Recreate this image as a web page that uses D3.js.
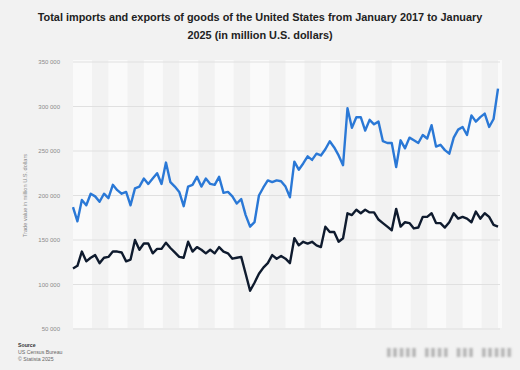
<!DOCTYPE html>
<html>
<head>
<meta charset="utf-8">
<script src="https://cdn.jsdelivr.net/npm/d3@7"></script>
<style>
  body { margin: 0; background: #f2f2f2; }
  svg { display: block; font-family: "Liberation Sans", Arial, sans-serif; }
</style>
</head>
<body>
<div id="chart"></div>
<script>
// monthly values, Jan 2017 .. Jan 2025 (million U.S. dollars, in thousands)
var months = d3.range(97).map(function (i) { return new Date(2017, i, 1) })

var imports = [187, 171, 195, 189, 202, 199, 193, 202, 197, 212, 206, 202,
    204, 189, 208, 210, 219, 213, 219, 225, 213, 237, 215, 210,
    204, 188, 210, 212, 221, 210, 219, 213, 212, 221, 203, 204,
    199, 191, 196, 178, 165, 170, 200, 209, 217, 215, 217, 216,
    210, 198, 238, 229, 236, 244, 240, 247, 245, 252, 261, 254,
    245, 234, 298, 276, 288, 288, 273, 285, 280, 283, 261, 259,
    259, 232, 262, 253, 265, 262, 259, 268, 264, 279, 255, 257,
    251, 247, 265, 274, 277, 268, 290, 283, 288, 292, 277, 286,
    320]

var exports = [118, 121, 137, 126, 130, 133, 124, 130, 131, 137, 137, 136,
    126, 128, 150, 139, 146, 146, 135, 140, 140, 147, 141, 136,
    131, 130, 148, 137, 142, 139, 135, 139, 135, 142, 137, 135,
    129, 130, 131, 112, 93, 102, 112, 119, 124, 133, 129, 132,
    129, 124, 152, 144, 148, 146, 148, 144, 142, 165, 159, 159,
    148, 152, 180, 178, 184, 180, 184, 181, 181, 173, 169, 165,
    161, 185, 165, 170, 169, 163, 164, 176, 176, 180, 169, 169,
    164, 170, 180, 174, 176, 174, 170, 182, 174, 180, 176, 167,
    165]

var yTicks = [50, 100, 150, 200, 250, 300, 350]
var tickLabels = ["50 000", "100 000", "150 000", "200 000", "250 000", "300 000", "350 000"]

var width = 520, height = 370
var margin = {top: 62, right: 22, bottom: 41, left: 73}
var chartWidth = width - margin.left - margin.right
var chartHeight = height - margin.top - margin.bottom

var svg = d3.select("#chart").append("svg")
    .attr("width", width).attr("height", height)

svg.append("rect").attr("width", width).attr("height", height).attr("fill", "#f2f2f2")

var defs = svg.append("defs")
defs.append("filter").attr("id", "blur")
    .attr("x", "-10%").attr("y", "-50%").attr("width", "120%").attr("height", "200%")
    .append("feGaussianBlur").attr("stdDeviation", "1.6 1.2")

// title
var title = svg.append("text")
    .attr("text-anchor", "middle")
    .attr("font-weight", "bold")
    .attr("font-size", 10.9)
    .attr("fill", "#222")
title.append("tspan").attr("x", width / 2).attr("y", 21)
    .text("Total imports and exports of goods of the United States from January 2017 to January")
title.append("tspan").attr("x", width / 2).attr("y", 39)
    .text("2025 (in million U.S. dollars)")

var xScale = d3.scaleLinear().domain([0, 96]).range([0, 425])
var yScale = d3.scaleLinear().domain([50, 350]).range([chartHeight, 0])

var chartLayer = svg.append("g")
    .attr("transform", "translate(" + [margin.left, margin.top] + ")")

// vertical stripes, one every 8 months
var stripes = d3.range(0, 97, 8)
chartLayer.selectAll(".stripe").data(stripes).enter().append("rect")
    .attr("x", function (d) { return xScale(d) })
    .attr("y", -2)
    .attr("width", function (d) { return Math.min(xScale(d + 4.3), xScale(96) + 4) - xScale(d) })
    .attr("height", chartHeight + 1)
    .attr("fill", "#fafafa")

// gridlines
chartLayer.selectAll(".grid").data(yTicks).enter().append("line")
    .attr("x1", 0).attr("x2", xScale(96) + 2)
    .attr("y1", function (d) { return yScale(d) })
    .attr("y2", function (d) { return yScale(d) })
    .attr("stroke", "#e0e0e0")
    .attr("stroke-width", 1)

// y axis labels
var yAxis = d3.axisLeft(yScale)
    .tickValues(yTicks)
    .tickSize(0)
    .tickPadding(13)
    .tickFormat(function (d, i) { return tickLabels[i] })
var gy = chartLayer.append("g").attr("class", "axis y").call(yAxis)
gy.select(".domain").remove()
gy.selectAll("text")
    .attr("font-family", "Liberation Sans, Arial, sans-serif")
    .attr("font-size", 6)
    .attr("fill", "#8a8a8a")

svg.append("text")
    .attr("transform", "translate(27," + (margin.top + yScale(200)) + ") rotate(-90)")
    .attr("text-anchor", "middle")
    .attr("font-size", 5.6)
    .attr("fill", "#8a8a8a")
    .text("Trade value in million U.S. dollars")

// lines
var line = d3.line()
    .x(function (d, i) { return xScale(i) })
    .y(function (d) { return yScale(d) })

chartLayer.append("path").datum(imports)
    .attr("d", line)
    .attr("fill", "none")
    .attr("stroke", "#2a78d6")
    .attr("stroke-width", 2.4)
    .attr("stroke-linejoin", "round")

chartLayer.append("path").datum(exports)
    .attr("d", line)
    .attr("fill", "none")
    .attr("stroke", "#0f1b2e")
    .attr("stroke-width", 2.4)
    .attr("stroke-linejoin", "round")

// footer
var foot = svg.append("g").attr("font-size", 5.2).attr("fill", "#666")
foot.append("text").attr("x", 18).attr("y", 347).attr("font-weight", "bold").attr("fill", "#333").text("Source")
foot.append("text").attr("x", 18).attr("y", 354).text("US Census Bureau")
foot.append("text").attr("x", 18).attr("y", 361).text("© Statista 2025")

svg.append("text")
    .attr("x", 387).attr("y", 357)
    .attr("font-size", 13)
    .attr("font-weight", "bold")
    .attr("fill", "#7a7a7a")
    .attr("textLength", 124)
    .attr("filter", "url(#blur)")
    .text("lllll  llll lll  lllll")
</script>
</body>
</html>
